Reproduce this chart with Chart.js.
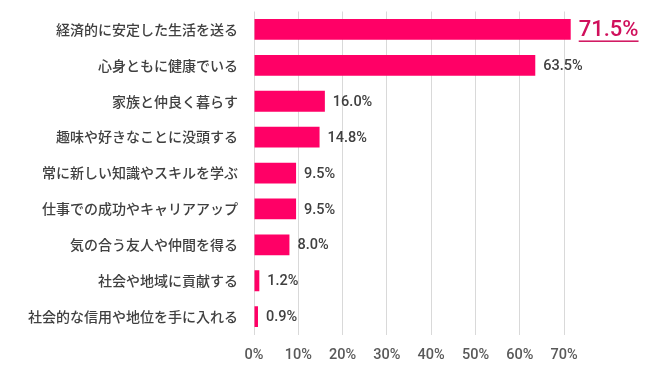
<!DOCTYPE html>
<html>
<head>
<meta charset="utf-8">
<script src="https://cdn.jsdelivr.net/npm/chart.js@4/dist/chart.umd.min.js"></script>
<style>
  html, body { margin: 0; padding: 0; background: #fff; }
  #wrap { width: 650px; height: 376px; }
</style>
</head>
<body>
<div id="wrap"><canvas id="goalChart"></canvas></div>
<script>
// answers and share of respondents (%)
const categories = [
    '経済的に安定した生活を送る',
    '心身ともに健康でいる',
    '家族と仲良く暮らす',
    '趣味や好きなことに没頭する',
    '常に新しい知識やスキルを学ぶ',
    '仕事での成功やキャリアアップ',
    '気の合う友人や仲間を得る',
    '社会や地域に貢献する',
    '社会的な信用や地位を手に入れる'
];
const shares = [71.5, 63.5, 16.0, 14.8, 9.5, 9.5, 8.0, 1.2, 0.9];
const tickValues = [0, 10, 20, 30, 40, 50, 60, 70];

const jpFont = '"Noto Sans CJK JP", "Noto Sans", sans-serif';
const numFont = 'Roboto, "Liberation Sans", Arial, sans-serif';

// draws the % value next to each bar, the top one highlighted
const valueLabels = {
    id: 'valueLabels',
    afterDatasetsDraw(chart) {
        const ctx = chart.ctx;
        const meta = chart.getDatasetMeta(0);
        ctx.save();
        ctx.textBaseline = 'middle';
        ctx.textAlign = 'left';
        meta.data.forEach((bar, i) => {
            const text = shares[i].toFixed(1) + '%';
            const x = bar.x + 8;
            const y = bar.y + 1;
            if (i === 0) {
                ctx.font = '500 22px ' + numFont;
                ctx.fillStyle = '#d0105c';
                ctx.fillText(text, x, y);
                const w = ctx.measureText(text).width;
                ctx.fillRect(x, y + 10, w, 1.5);
            } else {
                ctx.font = '500 14.5px ' + numFont;
                ctx.fillStyle = '#404040';
                ctx.fillText(text, x, y);
            }
        });
        ctx.restore();
    }
};

new Chart(document.getElementById('goalChart'), {
    type: 'bar',
    data: {
        labels: categories,
        datasets: [{
            data: shares,
            backgroundColor: '#ff0066',
            barPercentage: 0.58,
            categoryPercentage: 1.0
        }]
    },
    options: {
        indexAxis: 'y',
        responsive: true,
        maintainAspectRatio: false,
        animation: false,
        layout: { padding: { top: 1, right: 66, bottom: 0, left: 0 } },
        plugins: {
            legend: { display: false },
            tooltip: { enabled: false }
        },
        scales: {
            x: {
                min: 0,
                max: 74.5,
                afterBuildTicks: s => { s.ticks = tickValues.map(v => ({ value: v })); },
                grid: { color: '#d9d9d9', drawTicks: false },
                border: { display: false },
                ticks: {
                    padding: 12,
                    color: '#595959',
                    font: { family: numFont, size: 14.5, weight: '500', lineHeight: 1.2 },
                    callback: v => v + '%'
                }
            },
            y: {
                afterFit: s => { s.width = 254; },
                grid: { display: false },
                border: { display: false },
                ticks: {
                    padding: 8,
                    color: '#404040',
                    font: { family: jpFont, size: 14, weight: '500', lineHeight: 0.5 }
                }
            }
        }
    },
    plugins: [valueLabels]
});
</script>
</body>
</html>
